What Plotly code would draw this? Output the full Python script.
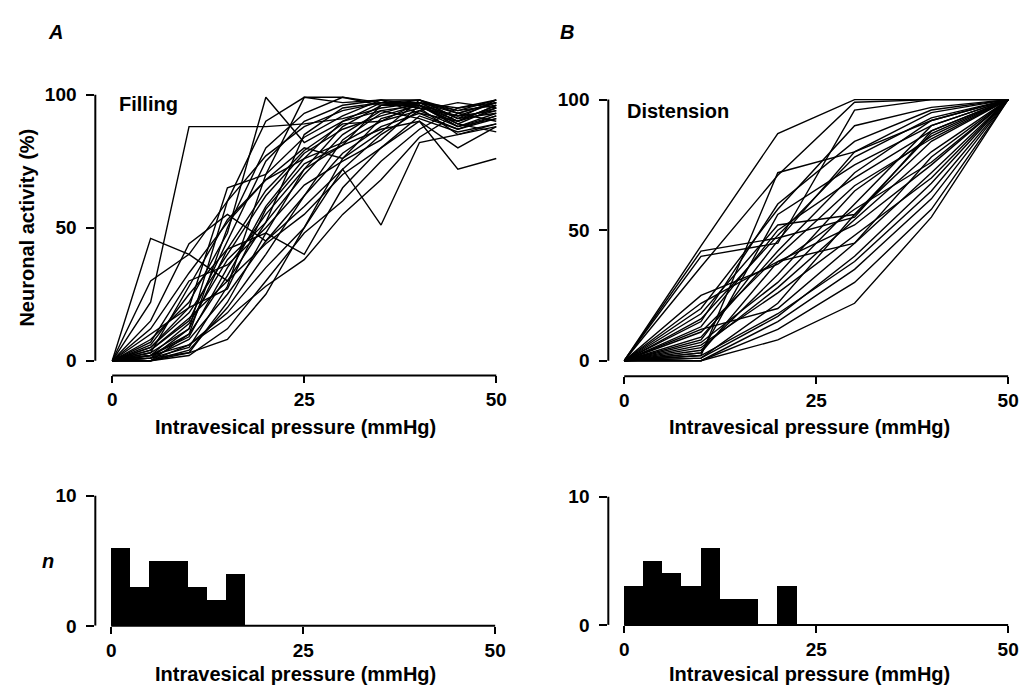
import plotly.graph_objects as go

W, H = 1032, 691

# ---------------- data ----------------
fill_x = [0, 5, 10, 15, 20, 25, 30, 35, 40, 45, 50]
fill_lines = [
    [0, 46, 40, 30, 52, 70, 85, 94, 96, 88, 93],
    [0, 22, 88, 88, 88, 89, 91, 95, 97, 90, 96],
    [0, 8, 22, 48, 99, 82, 90, 97, 98, 93, 97],
    [0, 3, 12, 60, 90, 99, 99, 96, 97, 91, 98],
    [0, 1, 5, 28, 70, 99, 97, 98, 93, 87, 92],
    [0, 2, 9, 35, 55, 72, 88, 96, 98, 94, 96],
    [0, 5, 18, 40, 62, 78, 87, 92, 96, 90, 94],
    [0, 12, 33, 52, 68, 80, 76, 91, 95, 92, 97],
    [0, 4, 15, 45, 75, 90, 96, 98, 96, 89, 95],
    [0, 0, 4, 20, 40, 62, 83, 93, 97, 95, 98],
    [0, 1, 8, 25, 45, 58, 72, 85, 94, 88, 91],
    [0, 6, 25, 42, 48, 40, 65, 80, 90, 72, 76],
    [0, 2, 10, 32, 58, 76, 90, 94, 91, 86, 89],
    [0, 0, 2, 12, 30, 48, 60, 75, 87, 95, 97],
    [0, 15, 44, 55, 45, 62, 78, 88, 93, 90, 96],
    [0, 3, 28, 53, 68, 76, 82, 90, 94, 97, 95],
    [0, 0, 6, 18, 35, 50, 72, 51, 82, 85, 88],
    [0, 10, 20, 65, 70, 84, 92, 98, 98, 91, 93],
    [0, 2, 14, 38, 52, 85, 95, 97, 95, 85, 89],
    [0, 1, 3, 22, 48, 72, 81, 96, 96, 92, 94],
    [0, 7, 30, 36, 50, 66, 75, 83, 96, 88, 92],
    [0, 0, 10, 50, 80, 93, 99, 97, 96, 89, 86],
    [0, 4, 16, 30, 44, 55, 70, 80, 92, 87, 91],
    [0, 2, 6, 16, 28, 38, 55, 68, 84, 93, 97],
    [0, 30, 40, 60, 77, 88, 94, 97, 97, 94, 98],
    [0, 1, 12, 42, 64, 79, 89, 90, 97, 93, 90],
    [0, 5, 20, 27, 57, 74, 81, 87, 90, 80, 88],
    [0, 0, 3, 8, 25, 50, 76, 86, 98, 91, 95],
]

dist_x = [0, 10, 20, 30, 40, 50]
dist_lines = [
    [0, 44, 87, 100, 100, 100],
    [0, 36, 71, 99, 100, 100],
    [0, 40, 45, 96, 100, 100],
    [0, 20, 58, 90, 97, 100],
    [0, 16, 48, 78, 93, 100],
    [0, 42, 47, 55, 88, 100],
    [0, 3, 56, 75, 90, 100],
    [0, 11, 40, 67, 85, 100],
    [0, 2, 72, 80, 92, 100],
    [0, 7, 30, 60, 90, 100],
    [0, 5, 28, 54, 80, 100],
    [0, 3, 38, 45, 78, 100],
    [0, 12, 20, 45, 72, 100],
    [0, 1, 17, 40, 68, 100],
    [0, 0, 15, 35, 62, 100],
    [0, 0, 8, 22, 55, 100],
    [0, 0, 12, 30, 58, 100],
    [0, 22, 38, 52, 75, 100],
    [0, 13, 50, 70, 88, 100],
    [0, 8, 46, 80, 95, 100],
    [0, 4, 33, 65, 86, 100],
    [0, 6, 26, 48, 70, 100],
    [0, 18, 52, 56, 84, 100],
    [0, 2, 18, 38, 65, 100],
    [0, 9, 42, 72, 92, 100],
    [0, 15, 60, 84, 96, 100],
    [0, 1, 22, 56, 87, 100],
    [0, 25, 37, 58, 76, 100],
]

bin_width = 2.5
fill_bin_starts = [0, 2.5, 5, 7.5, 10, 12.5, 15]
fill_counts = [6, 3, 5, 5, 3, 2, 4]
dist_bin_starts = [0, 2.5, 5, 7.5, 10, 12.5, 15, 17.5, 20]
dist_counts = [3, 5, 4, 3, 6, 2, 2, 0, 3]

x_ticks = [0, 25, 50]
y_ticks_top = [0, 50, 100]
y_ticks_bot = [0, 10]

# ---------------- figure ----------------
FONT = "Liberation Sans, Arial, Helvetica, sans-serif"
fig = go.Figure()

for ys in fill_lines:
    fig.add_trace(go.Scatter(x=fill_x, y=ys, mode="lines",
                             line=dict(color="black", width=1.4),
                             xaxis="x", yaxis="y", hoverinfo="skip"))
for ys in dist_lines:
    fig.add_trace(go.Scatter(x=dist_x, y=ys, mode="lines",
                             line=dict(color="black", width=1.4),
                             xaxis="x2", yaxis="y2", hoverinfo="skip"))

fig.add_trace(go.Bar(x=fill_bin_starts, y=fill_counts, width=bin_width, offset=0,
                     marker=dict(color="black", line=dict(width=0)),
                     xaxis="x3", yaxis="y3"))
fig.add_trace(go.Bar(x=dist_bin_starts, y=dist_counts, width=bin_width, offset=0,
                     marker=dict(color="black", line=dict(width=0)),
                     xaxis="x4", yaxis="y4"))


def xd(p0, p1):
    return [p0 / W, p1 / W]


def yd(top, bottom):
    return [1 - bottom / H, 1 - top / H]


tickfont = dict(family=FONT, size=19, color="black", weight="bold")


def xaxis(domain, rng, anchor):
    return dict(domain=domain, range=rng, anchor=anchor, tickvals=x_ticks,
                ticks="outside", ticklen=7, tickwidth=2, tickcolor="black",
                showline=False, showgrid=False, zeroline=False,
                tickfont=tickfont, fixedrange=True)


def yaxis(domain, rng, anchor, tv):
    return dict(domain=domain, range=rng, anchor=anchor, tickvals=tv,
                ticks="outside", ticklen=8, tickwidth=2, tickcolor="black",
                showline=False, showgrid=False, zeroline=False,
                tickfont=tickfont, ticklabelstandoff=6, fixedrange=True)


fig.update_layout(
    width=W, height=H,
    margin=dict(l=0, r=0, t=0, b=0),
    paper_bgcolor="white", plot_bgcolor="white",
    showlegend=False, bargap=0,
    xaxis=xaxis(xd(88, 494.4), [-2.2, 50.3], "y"),
    yaxis=yaxis(yd(78.6, 369.1), [-5.5, 100.5], "x", y_ticks_top),
    xaxis2=xaxis(xd(605, 1010.3), [-2.07, 50.3], "y2"),
    yaxis2=yaxis(yd(83.7, 370), [-5.95, 100.5], "x2", y_ticks_top),
    xaxis3=xaxis(xd(88, 493.3), [-2.07, 50.3], "y3"),
    yaxis3=yaxis(yd(490.3, 627), [0, 10.2], "x3", y_ticks_bot),
    xaxis4=xaxis(xd(605, 1010.3), [-2.07, 50.3], "y4"),
    yaxis4=yaxis(yd(491.4, 626), [0, 10.2], "x4", y_ticks_bot),
)

# offset axis lines (spines) spanning only the data range
shapes = []
for i, ytop in [("", 100), ("2", 100), ("3", 10), ("4", 10)]:
    shapes.append(dict(type="line", xref="x" + i, yref="y" + i + " domain",
                       x0=0, x1=50, y0=0, y1=0,
                       line=dict(color="black", width=2)))
    shapes.append(dict(type="line", xref="x" + i + " domain", yref="y" + i,
                       x0=0, x1=0, y0=0, y1=ytop,
                       line=dict(color="black", width=2)))
fig.update_layout(shapes=shapes)

title_font = dict(family=FONT, size=20, color="black", weight="bold")
ann = []


def add_text(text, x, y, font, xanchor="center", **kw):
    ann.append(dict(text=text, x=x / W, y=1 - y / H, xref="paper", yref="paper",
                    showarrow=False, font=font, xanchor=xanchor,
                    yanchor="middle", **kw))


add_text("Intravesical pressure (mmHg)", 290, 422, title_font)
add_text("Intravesical pressure (mmHg)", 808, 422, title_font)
add_text("Intravesical pressure (mmHg)", 290, 677, title_font)
add_text("Intravesical pressure (mmHg)", 808, 677, title_font)
add_text("Neuronal activity (%)", 19, 217, title_font, textangle=-90)
add_text("<i>n</i>", 40, 560, title_font)
add_text("Filling", 110, 90, title_font, xanchor="left")
add_text("Distension", 622, 97, title_font, xanchor="left")
add_text("<i>A</i>", 48, 15, title_font)
add_text("<i>B</i>", 563, 15, title_font)
fig.update_layout(annotations=ann)

fig.write_html("out.html")
